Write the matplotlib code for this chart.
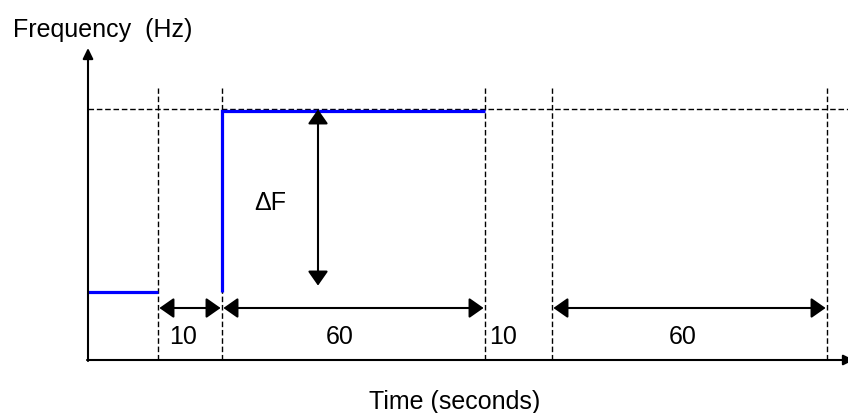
import matplotlib.pyplot as plt

plt.rcParams['font.family'] = ['Liberation Sans', 'DejaVu Sans']

# schematic positions along the time axis (phase boundaries)
bounds = [0, 70, 134, 397, 464, 739]
span_labels = ['10', '60', '10', '60']
# frequency levels (schematic units)
f_low = 68
f_high = 249
f_ref = 251

fig = plt.figure(figsize=(8.48, 4.13), dpi=100)
ax = fig.add_axes([88 / 848, 53 / 413, 760 / 848, 310 / 413])
ax.set_xlim(0, 760)
ax.set_ylim(0, 310)
ax.axis('off')

axis_arrow = dict(arrowstyle='-|>,head_length=0.45,head_width=0.22', mutation_scale=14,
                  lw=1.5, color='black', shrinkA=0, shrinkB=0)
dim_arrow = dict(arrowstyle='<|-|>,head_length=0.4,head_width=0.28', mutation_scale=22,
                 lw=1.5, color='black', shrinkA=1, shrinkB=1)

# axes with arrows
ax.annotate('', xy=(0, 312), xytext=(0, -1), annotation_clip=False, arrowprops=axis_arrow)
ax.annotate('', xy=(766, 0), xytext=(-1, 0), annotation_clip=False, arrowprops=axis_arrow)

# dashed reference lines
ax.plot([0, 760], [f_ref, f_ref], ls=(0, (4, 2)), color='black', lw=1.0, clip_on=False)
for b in bounds[1:]:
    ax.plot([b, b], [0, 272], ls=(0, (4, 2)), color='black', lw=1.0, clip_on=False)

# frequency profile
ax.plot([bounds[0], bounds[1]], [f_low, f_low], color='#0000ff', lw=2.3, solid_capstyle='butt')
ax.plot([bounds[2], bounds[2], bounds[3]], [f_low, f_high, f_high], color='#0000ff', lw=2.3,
        solid_capstyle='butt', solid_joinstyle='miter')

# duration arrows
arrow_y = 52
pairs = [(bounds[1], bounds[2]), (bounds[2], bounds[3]), (bounds[4], bounds[5])]
for a, b in pairs:
    ax.annotate('', xy=(b, arrow_y), xytext=(a, arrow_y), arrowprops=dim_arrow)

label_x = [95, 252, 415, 595]
for x, s in zip(label_x, span_labels):
    ax.text(x, 23, s, ha='center', va='center', fontsize=18)

# delta F arrow
ax.annotate('', xy=(230, 73), xytext=(230, f_ref + 1), arrowprops=dim_arrow)
ax.text(182, 157, '\u0394F', ha='center', va='center', fontsize=18)

ax.text(-75, 330, 'Frequency  (Hz)', ha='left', va='center', fontsize=18)
ax.text(367, -42, 'Time (seconds)', ha='center', va='center', fontsize=18)

fig.savefig('out.png', dpi=100)
